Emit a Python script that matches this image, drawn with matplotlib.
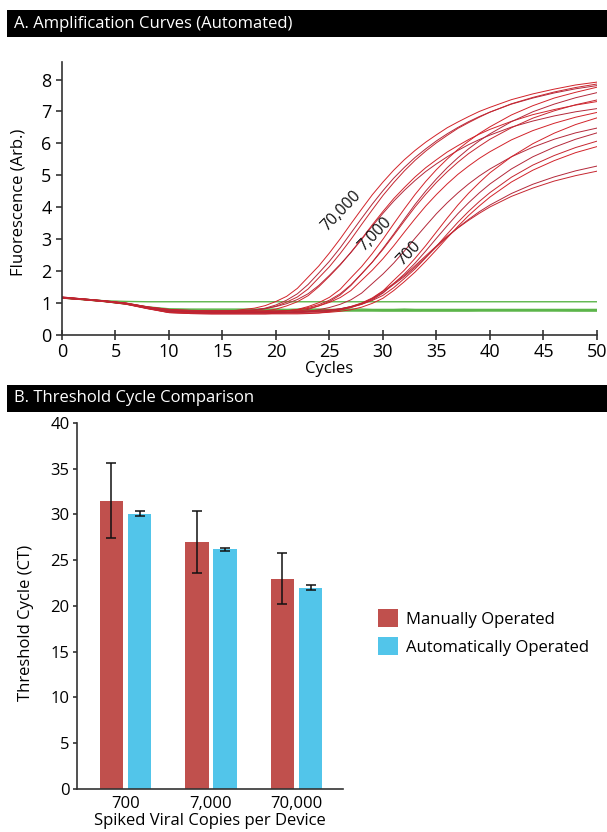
import matplotlib
matplotlib.use("Agg")
import matplotlib.pyplot as plt
from matplotlib.patches import Rectangle

plt.rcParams['font.family'] = ['Open Sans', 'DejaVu Sans']

# ---- panel A data: fluorescence ----
CYCLES = [0, 2, 4, 6, 8, 10, 12, 14, 16,
          18, 19, 20, 21, 22, 23, 24, 25, 26, 27, 28, 29, 30, 31, 32, 33, 34, 35,
          36, 37, 38, 39, 40,
          42, 44, 46, 48, 50]

CURVES_70000 = [
    [1.18, 1.13, 1.07, 0.99, 0.87, 0.78, 0.75, 0.74, 0.76,
     0.84, 0.92, 1.05, 1.21, 1.46, 1.81, 2.16, 2.57, 3.01, 3.48, 3.94, 4.39, 4.79, 5.16, 5.49, 5.78, 6.04, 6.27,
     6.49, 6.67, 6.84, 7.00, 7.13,
     7.37, 7.55, 7.70, 7.83, 7.92],
    [1.16, 1.11, 1.05, 0.98, 0.85, 0.74, 0.71, 0.70, 0.72,
     0.78, 0.84, 0.94, 1.09, 1.29, 1.58, 1.94, 2.31, 2.73, 3.19, 3.65, 4.10, 4.52, 4.91, 5.25, 5.56, 5.83, 6.08,
     6.30, 6.50, 6.68, 6.84, 6.98,
     7.23, 7.42, 7.58, 7.71, 7.81],
    [1.18, 1.12, 1.06, 0.99, 0.87, 0.76, 0.73, 0.72, 0.73,
     0.77, 0.82, 0.90, 1.03, 1.19, 1.44, 1.79, 2.14, 2.55, 2.99, 3.46, 3.92, 4.37, 4.77, 5.14, 5.47, 5.76, 6.02,
     6.25, 6.47, 6.65, 6.82, 6.98,
     7.24, 7.44, 7.61, 7.75, 7.86],
    [1.16, 1.11, 1.05, 0.98, 0.84, 0.72, 0.69, 0.68, 0.68,
     0.71, 0.75, 0.81, 0.91, 1.04, 1.23, 1.51, 1.84, 2.19, 2.59, 3.01, 3.45, 3.87, 4.27, 4.62, 4.95, 5.24, 5.49,
     5.73, 5.93, 6.12, 6.29, 6.44,
     6.69, 6.90, 7.06, 7.20, 7.31],
    [1.19, 1.13, 1.07, 1.00, 0.88, 0.80, 0.77, 0.76, 0.76,
     0.79, 0.83, 0.89, 0.98, 1.11, 1.29, 1.55, 1.87, 2.21, 2.58, 2.99, 3.41, 3.81, 4.19, 4.53, 4.84, 5.12, 5.36,
     5.58, 5.78, 5.96, 6.12, 6.26,
     6.51, 6.70, 6.86, 6.99, 7.09],
]

CURVES_7000 = [
    [1.17, 1.12, 1.06, 0.98, 0.85, 0.74, 0.71, 0.70, 0.70,
     0.70, 0.71, 0.72, 0.75, 0.80, 0.89, 1.01, 1.18, 1.43, 1.79, 2.14, 2.55, 3.00, 3.48, 3.95, 4.40, 4.81, 5.18,
     5.51, 5.81, 6.07, 6.31, 6.52,
     6.89, 7.18, 7.42, 7.60, 7.76],
    [1.16, 1.11, 1.05, 0.97, 0.83, 0.70, 0.67, 0.66, 0.66,
     0.66, 0.66, 0.68, 0.70, 0.74, 0.80, 0.91, 1.05, 1.25, 1.55, 1.91, 2.28, 2.71, 3.16, 3.63, 4.09, 4.51, 4.89,
     5.24, 5.55, 5.83, 6.08, 6.30,
     6.68, 6.99, 7.23, 7.43, 7.59],
    [1.18, 1.12, 1.06, 0.99, 0.86, 0.76, 0.73, 0.72, 0.72,
     0.72, 0.72, 0.73, 0.76, 0.79, 0.86, 0.95, 1.09, 1.29, 1.57, 1.92, 2.28, 2.68, 3.12, 3.57, 4.01, 4.41, 4.78,
     5.11, 5.41, 5.68, 5.91, 6.13,
     6.49, 6.79, 7.02, 7.21, 7.36],
    [1.17, 1.12, 1.06, 0.99, 0.87, 0.78, 0.75, 0.74, 0.74,
     0.74, 0.74, 0.74, 0.76, 0.79, 0.83, 0.91, 1.02, 1.17, 1.39, 1.71, 2.03, 2.39, 2.79, 3.22, 3.64, 4.04, 4.40,
     4.73, 5.03, 5.29, 5.53, 5.74,
     6.11, 6.40, 6.63, 6.82, 6.97],
    [1.17, 1.11, 1.05, 0.98, 0.85, 0.74, 0.71, 0.70, 0.70,
     0.70, 0.70, 0.70, 0.71, 0.72, 0.74, 0.79, 0.86, 0.96, 1.10, 1.31, 1.61, 1.91, 2.25, 2.63, 3.03, 3.42, 3.80,
     4.14, 4.45, 4.73, 4.98, 5.20,
     5.58, 5.88, 6.13, 6.33, 6.48],
]

CURVES_700 = [
    [1.18, 1.12, 1.06, 0.99, 0.86, 0.76, 0.73, 0.72, 0.72,
     0.72, 0.72, 0.72, 0.72, 0.72, 0.73, 0.74, 0.77, 0.81, 0.89, 1.00, 1.16, 1.38, 1.71, 2.03, 2.40, 2.80, 3.23,
     3.66, 4.07, 4.44, 4.77, 5.08,
     5.58, 5.99, 6.32, 6.59, 6.80],
    [1.16, 1.11, 1.05, 0.98, 0.84, 0.73, 0.71, 0.70, 0.70,
     0.70, 0.70, 0.70, 0.70, 0.70, 0.71, 0.72, 0.74, 0.79, 0.86, 0.96, 1.10, 1.31, 1.61, 1.91, 2.25, 2.63, 3.03,
     3.42, 3.80, 4.14, 4.45, 4.73,
     5.20, 5.58, 5.88, 6.13, 6.33],
    [1.19, 1.13, 1.07, 1.00, 0.88, 0.80, 0.77, 0.76, 0.76,
     0.76, 0.76, 0.76, 0.76, 0.76, 0.76, 0.77, 0.79, 0.82, 0.88, 0.96, 1.08, 1.24, 1.48, 1.77, 2.07, 2.42, 2.78,
     3.16, 3.53, 3.87, 4.18, 4.46,
     4.94, 5.32, 5.62, 5.87, 6.07],
    [1.16, 1.11, 1.05, 0.97, 0.83, 0.71, 0.69, 0.68, 0.68,
     0.68, 0.68, 0.68, 0.68, 0.68, 0.68, 0.69, 0.71, 0.74, 0.79, 0.87, 0.99, 1.15, 1.39, 1.67, 1.97, 2.31, 2.67,
     3.04, 3.40, 3.74, 4.04, 4.32,
     4.79, 5.16, 5.46, 5.71, 5.90],
    [1.17, 1.12, 1.06, 0.98, 0.85, 0.76, 0.73, 0.72, 0.72,
     0.72, 0.72, 0.72, 0.72, 0.72, 0.73, 0.75, 0.77, 0.82, 0.89, 0.99, 1.13, 1.33, 1.58, 1.83, 2.12, 2.44, 2.76,
     3.07, 3.36, 3.62, 3.86, 4.07,
     4.43, 4.72, 4.95, 5.14, 5.29],
    [1.15, 1.10, 1.04, 0.96, 0.82, 0.70, 0.67, 0.66, 0.66,
     0.66, 0.66, 0.66, 0.66, 0.66, 0.67, 0.69, 0.73, 0.78, 0.86, 0.98, 1.14, 1.37, 1.61, 1.87, 2.17, 2.48, 2.79,
     3.09, 3.35, 3.59, 3.81, 4.01,
     4.34, 4.60, 4.82, 4.99, 5.13],
]

# no-template controls (green)
CURVES_NTC = [
    [1.17, 1.12, 1.07, 1.05, 1.04, 1.04, 1.04, 1.04, 1.04,
     1.04, 1.04, 1.04, 1.04, 1.04, 1.04, 1.04, 1.04, 1.04, 1.04, 1.04, 1.04, 1.04, 1.04, 1.04, 1.04, 1.04, 1.04,
     1.04, 1.04, 1.04, 1.04, 1.04,
     1.04, 1.04, 1.04, 1.04, 1.04],
    [1.16, 1.11, 1.05, 0.98, 0.88, 0.82, 0.81, 0.81, 0.81,
     0.81, 0.81, 0.81, 0.80, 0.81, 0.81, 0.81, 0.80, 0.80, 0.81, 0.81, 0.80, 0.80, 0.80, 0.81, 0.80, 0.80, 0.80,
     0.80, 0.80, 0.80, 0.80, 0.80,
     0.80, 0.80, 0.80, 0.80, 0.80],
    [1.17, 1.12, 1.06, 0.98, 0.86, 0.79, 0.78, 0.78, 0.78,
     0.78, 0.78, 0.78, 0.78, 0.78, 0.79, 0.79, 0.78, 0.78, 0.78, 0.78, 0.78, 0.78, 0.79, 0.79, 0.78, 0.78, 0.78,
     0.78, 0.78, 0.78, 0.78, 0.78,
     0.78, 0.78, 0.79, 0.79, 0.78],
    [1.16, 1.11, 1.05, 0.97, 0.85, 0.78, 0.77, 0.77, 0.77,
     0.77, 0.77, 0.77, 0.77, 0.76, 0.76, 0.76, 0.76, 0.77, 0.77, 0.77, 0.77, 0.76, 0.76, 0.76, 0.76, 0.76, 0.76,
     0.76, 0.76, 0.76, 0.77, 0.77,
     0.77, 0.77, 0.77, 0.76, 0.76],
    [1.16, 1.11, 1.05, 0.97, 0.84, 0.76, 0.75, 0.75, 0.75,
     0.75, 0.75, 0.75, 0.75, 0.75, 0.75, 0.75, 0.75, 0.75, 0.75, 0.75, 0.75, 0.75, 0.75, 0.75, 0.75, 0.75, 0.75,
     0.75, 0.75, 0.75, 0.75, 0.75,
     0.75, 0.75, 0.75, 0.75, 0.75],
]

GROUP_LABELS = ["70,000", "7,000", "700"]
LABEL_X = [26.1, 29.3, 32.4]
LABEL_Y = [3.88, 3.15, 2.55]

# ---- panel B data: threshold cycles ----
COPIES = ["700", "7,000", "70,000"]
CT_MANUAL = [31.5, 27.0, 23.0]
ERR_MANUAL = [4.1, 3.4, 2.75]
CT_AUTO = [30.1, 26.2, 22.0]
ERR_AUTO = [0.3, 0.15, 0.3]

RED = "#c0504d"
BLUE = "#52c5ea"
AXIS_GRAY = "#333333"

fig = plt.figure(figsize=(6.07, 8.32), dpi=100)

# black title bars
for y0, y1, title in [(0.9555, 0.988, "A. Amplification Curves (Automated)"),
                      (0.5048, 0.5373, "B. Threshold Cycle Comparison")]:
    fig.patches.append(Rectangle((0.0115, y0), 0.9885, y1 - y0, transform=fig.transFigure,
                                 facecolor="black", edgecolor="none"))
    fig.text(0.023, (y0 + y1) / 2, title, color="white", va="center", ha="left", fontsize=12)

# ---- panel A ----
ax1 = fig.add_axes([0.1021, 0.5974, 0.8814, 0.3281])
for curve in CURVES_NTC:
    ax1.plot(CYCLES, curve, color="#5cb54a", lw=1.0)
red_shades = ["#d2232a", "#b3283a", "#c62630"]
for group in [CURVES_70000, CURVES_7000, CURVES_700]:
    for i, curve in enumerate(group):
        ax1.plot(CYCLES, curve, color=red_shades[i % 3], lw=0.7)

for lab, lx, ly in zip(GROUP_LABELS, LABEL_X, LABEL_Y):
    ax1.text(lx, ly, lab, rotation=46, ha="center", va="center", fontsize=11.5, color="#111111")

ax1.set_xlim(0, 50)
ax1.set_ylim(0, 8.55)
ax1.set_xticks(range(0, 51, 5))
ax1.set_yticks(range(0, 9))
ax1.spines["top"].set_visible(False)
ax1.spines["right"].set_visible(False)
for s in ["left", "bottom"]:
    ax1.spines[s].set_color(AXIS_GRAY)
    ax1.spines[s].set_linewidth(1.2)
ax1.tick_params(axis="x", direction="inout", length=7, width=1.2, color=AXIS_GRAY, labelsize=13, pad=2)
ax1.tick_params(axis="y", direction="out", length=4, width=1.2, color=AXIS_GRAY, labelsize=13, pad=3.5)
ax1.set_xlabel("Cycles", fontsize=12, labelpad=0)
ax1.set_ylabel("Fluorescence (Arb.)", fontsize=12)
ax1.yaxis.set_label_coords(-0.067, 0.485)

# ---- panel B ----
ax2 = fig.add_axes([0.1269, 0.0517, 0.4382, 0.4399])
pos = list(range(len(COPIES)))
w = 0.27
off = 0.164
ax2.bar([p - off for p in pos], CT_MANUAL, width=w, color=RED, label="Manually Operated",
        yerr=ERR_MANUAL, capsize=3.5, error_kw=dict(elinewidth=1.1, capthick=1.1, ecolor="#111111"))
ax2.bar([p + off for p in pos], CT_AUTO, width=w, color=BLUE, label="Automatically Operated",
        yerr=ERR_AUTO, capsize=3.5, error_kw=dict(elinewidth=1.1, capthick=1.1, ecolor="#111111"))

ax2.set_xlim(-0.567, 2.544)
ax2.set_ylim(0, 40)
ax2.set_xticks(pos)
ax2.set_xticklabels(COPIES)
ax2.set_yticks(range(0, 41, 5))
ax2.spines["top"].set_visible(False)
ax2.spines["right"].set_visible(False)
for s in ["left", "bottom"]:
    ax2.spines[s].set_color(AXIS_GRAY)
    ax2.spines[s].set_linewidth(1.2)
ax2.tick_params(axis="x", length=0, labelsize=12, pad=5)
ax2.tick_params(axis="y", direction="out", length=3, width=1.2, color=AXIS_GRAY, labelsize=12, pad=2.5)
ax2.set_xlabel("Spiked Viral Copies per Device", fontsize=12, labelpad=1)
ax2.set_ylabel("Threshold Cycle (CT)", fontsize=12)
ax2.yaxis.set_label_coords(-0.162, 0.454)

fig.legend(loc="upper left", bbox_to_anchor=(0.612, 0.276), frameon=False, fontsize=12,
           handlelength=1.2, handleheight=1.3, handletextpad=0.45, labelspacing=0.55,
           borderaxespad=0.0)

fig.savefig("out.png", dpi=100)
